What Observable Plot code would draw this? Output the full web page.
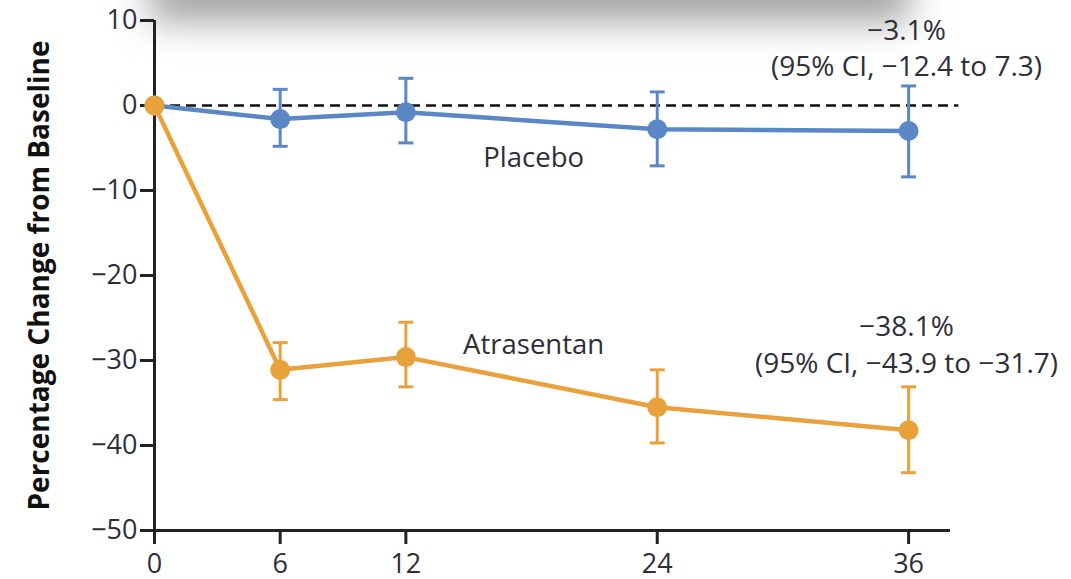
<!DOCTYPE html>
<html>
<head>
<meta charset="utf-8">
<script src="https://cdn.jsdelivr.net/npm/d3@7"></script>
<script src="https://cdn.jsdelivr.net/npm/@observablehq/plot@0.6"></script>
<style>
  html, body { margin: 0; padding: 0; background: white; }
  #wrap { position: relative; width: 1071px; height: 579px; overflow: hidden; }
  #shadow { position: absolute; left: 150px; top: -40px; width: 760px; height: 62px;
            background: #a4a4a4; filter: blur(18px); z-index: 0; }
  #chart { position: absolute; left: 0; top: 0; z-index: 1; }
  #chart svg { background: transparent; }
</style>
</head>
<body>
<div id="wrap"><div id="shadow"></div><div id="chart"></div></div>
<script>
// Months
const months = [0, 6, 12, 24, 36];
// Placebo: mean, lower, upper
const placeboMean  = [0, -1.6, -0.8, -2.8, -3.0];
const placeboLow   = [0, -4.8, -4.4, -7.1, -8.4];
const placeboHigh  = [0,  1.9,  3.2,  1.6,  2.3];
// Atrasentan: mean, lower, upper
const atraMean = [0, -31.1, -29.6, -35.5, -38.2];
const atraLow  = [0, -34.6, -33.1, -39.7, -43.2];
const atraHigh = [0, -27.9, -25.5, -31.1, -33.1];

const xTicks = [0, 6, 12, 24, 36];
const yTicks = [10, 0, -10, -20, -30, -40, -50];
const yTickLabels = ["10", "0", "−10", "−20", "−30", "−40", "−50"];
const xTickLabels = ["0", "6", "12", "24", "36"];

const seriesNames = ["Placebo", "Atrasentan"];
const colors = {Placebo: "#5b87c6", Atrasentan: "#e9a13c"};

const rows = [];
months.forEach((m, i) => {
  rows.push({series: "Placebo", month: m, mean: placeboMean[i], lo: placeboLow[i], hi: placeboHigh[i]});
});
months.forEach((m, i) => {
  rows.push({series: "Atrasentan", month: m, mean: atraMean[i], lo: atraLow[i], hi: atraHigh[i]});
});
const bars = rows.filter(d => d.month > 0);

const seriesLabels = [
  {text: "Placebo", month: 18.1, value: -6.2},
  {text: "Atrasentan", month: 18.1, value: -28.2}
];
const ciLabels = [
  {text: "−3.1%", month: 35.9, value: 8.8},
  {text: "(95% CI, −12.4 to 7.3)", month: 35.9, value: 4.5},
  {text: "−38.1%", month: 35.9, value: -26.1},
  {text: "(95% CI, −43.9 to −31.7)", month: 35.9, value: -30.4}
];

const capSymbol = {draw(ctx) { ctx.moveTo(-7.5, 0); ctx.lineTo(7.5, 0); }};
const textColor = "#2e2e38";
const font = "'Open Sans', sans-serif";

const chart = Plot.plot({
  width: 1071,
  height: 579,
  marginLeft: 154,
  marginRight: 121,
  marginTop: 20,
  marginBottom: 49,
  style: {fontFamily: font, background: "transparent", color: textColor},
  x: {domain: [0, 38], label: null},
  y: {domain: [-50, 10], label: null},
  color: {domain: seriesNames, range: seriesNames.map(s => colors[s])},
  marks: [
    Plot.axisX({ticks: xTicks, tickFormat: d => xTickLabels[xTicks.indexOf(d)], tickSize: 14,
                tickPadding: 9, fontSize: 27, stroke: "#222", strokeWidth: 3, fill: textColor}),
    Plot.axisY({ticks: yTicks, tickFormat: d => yTickLabels[yTicks.indexOf(d)], tickSize: 14,
                tickPadding: 3, fontSize: 27, stroke: "#222", strokeWidth: 3, fill: textColor}),
    Plot.ruleY([-50], {x1: 0, x2: 38, stroke: "#222", strokeWidth: 3}),
    Plot.ruleX([0], {y1: -50, y2: 10, stroke: "#222", strokeWidth: 3}),
    Plot.ruleY([0], {x1: 0, x2: 38.4, stroke: "#111", strokeWidth: 2.6, strokeDasharray: "10,6"}),
    Plot.ruleX(bars, {x: "month", y1: "lo", y2: "hi", stroke: "series", strokeWidth: 3}),
    Plot.dot(bars, {x: "month", y: "lo", symbol: capSymbol, stroke: "series", strokeWidth: 3, r: 5}),
    Plot.dot(bars, {x: "month", y: "hi", symbol: capSymbol, stroke: "series", strokeWidth: 3, r: 5}),
    Plot.line(rows, {x: "month", y: "mean", z: "series", stroke: "series", strokeWidth: 4.5}),
    Plot.dot(rows, {x: "month", y: "mean", fill: "series", r: 10}),
    Plot.text(seriesLabels, {x: "month", y: "value", text: "text", fontSize: 27.5, fill: textColor}),
    Plot.text(ciLabels, {x: "month", y: "value", text: "text", fontSize: 28, fill: textColor}),
    Plot.text(["Percentage Change from Baseline"], {frameAnchor: "left", dx: -114, y: -20, rotate: -90,
              textAnchor: "middle", text: d => d, fontSize: 28, fontWeight: "bold", fill: "#111"})
  ]
});
document.getElementById("chart").appendChild(chart);
</script>
</body>
</html>
